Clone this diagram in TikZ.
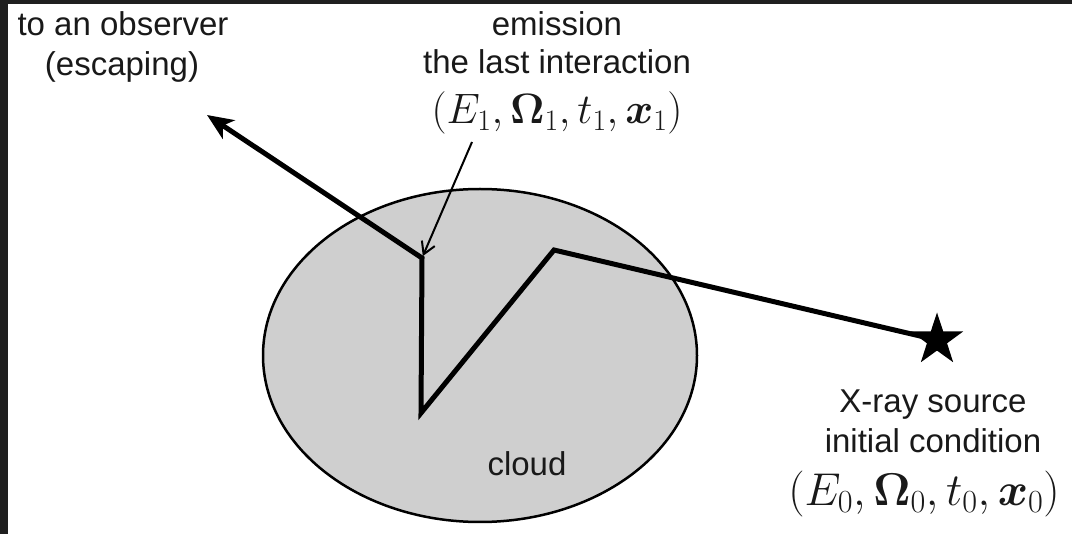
\RequirePackage{fix-cm}
\documentclass[tikz,border=0pt]{standalone}
\usepackage{amsmath}
\usepackage{bm}
\usepackage[no-math]{fontspec}
\setmainfont{Liberation Sans}
\usetikzlibrary{shapes.geometric,arrows.meta}
\definecolor{cloudgray}{RGB}{207,207,207}
\definecolor{framecol}{RGB}{31,31,31}
\definecolor{inkcol}{RGB}{25,25,25}
\begin{document}
\begin{tikzpicture}[x=1pt,y=-1pt,
  lbl/.style={inner sep=0pt, anchor=base, text=inkcol, font=\fontsize{33}{40}\selectfont},
  mathlbl/.style={inner sep=0pt, anchor=base, text=inkcol},
  ray/.style={line width=5pt, line join=miter, draw=black},
  pointer/.style={line width=2pt, draw=black},
  cloudshape/.style={ellipse, draw=black, line width=2.5pt, fill=cloudgray, inner sep=0pt, minimum width=434pt, minimum height=333pt},
  srcstar/.style={star, star points=5, star point ratio=2.6, fill=black, draw=none, minimum size=55pt, inner sep=0pt}
]
\useasboundingbox (0,0) rectangle (1072,534);
\fill[white] (0,0) rectangle (1072,534);
\fill[framecol] (0,0) rectangle (1072,4);
\fill[framecol] (0,0) rectangle (8,534);

\node[cloudshape] (cloud) at (480,355.5) {};
\node[lbl] (cloudtxt) at (527,476) {cloud};

\coordinate (srcpt) at (937,340);
\coordinate (v1) at (554,250);
\coordinate (v2) at (421,413);
\coordinate (v3) at (422,258);
\coordinate (obs) at (207,115);
\coordinate (lblfoot) at (472,142);

\draw[ray, -{Stealth[length=26pt,width=22pt,inset=7pt]}] (srcpt) -- (v1) -- (v2) -- (v3) -- (obs);
\node[srcstar] (src) at (srcpt) {};

\draw[pointer, shorten >=2pt, -{Straight Barb[length=12pt,width=14pt]}] (lblfoot) -- (v3);

\node[lbl] (obs1) at (123,36) {to an observer};
\node[lbl] (obs2) at (122,76) {(escaping)};
\node[lbl] (em1) at (557,36) {emission};
\node[lbl] (em2) at (557,74) {the last interaction};
\node[mathlbl, font=\fontsize{42.5}{50}\selectfont] (em3) at (557,124) {$(E_1,\mathbf{\Omega}_1,t_1,\bm{x}_1)$};
\node[lbl] (src1) at (933,413) {X-ray source};
\node[lbl] (src2) at (933,453) {initial condition};
\node[mathlbl, font=\fontsize{46}{54}\selectfont] (src3) at (924,506) {$(E_0,\mathbf{\Omega}_0,t_0,\bm{x}_0)$};
\end{tikzpicture}
\end{document}
